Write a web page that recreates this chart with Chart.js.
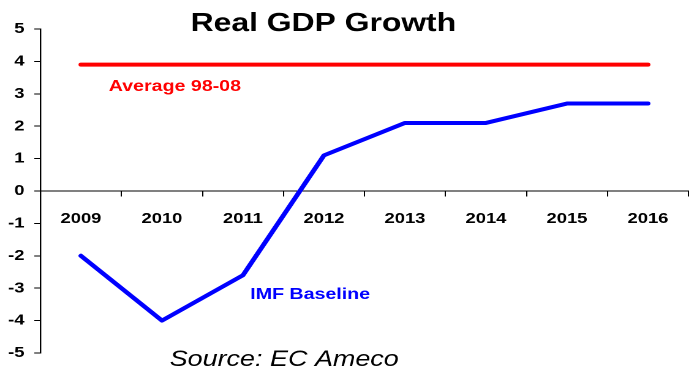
<!DOCTYPE html>
<html>
<head>
<meta charset="utf-8">
<script src="https://cdn.jsdelivr.net/npm/chart.js@4/dist/chart.umd.min.js"></script>
<style>
  html, body { margin: 0; padding: 0; background: #fff; overflow: hidden; }
  /* the chart is laid out narrow and widened, so the text comes out broad */
  #wrap { width: 565px; height: 375px; transform: scaleX(1.225); transform-origin: 0 0; }
</style>
</head>
<body>
<div id="wrap"><canvas id="gdpChart" width="565" height="375"></canvas></div>
<script>
const years = ['2009', '2010', '2011', '2012', '2013', '2014', '2015', '2016'];
const imfBaseline = [-2, -4, -2.6, 1.1, 2.1, 2.1, 2.7, 2.7];
const average9808 = [3.9, 3.9, 3.9, 3.9, 3.9, 3.9, 3.9, 3.9];
const yMin = -5;
const yMax = 5;

const FONT = '"Liberation Sans", Arial, sans-serif';

// title, line captions and source note
const textPlugin = {
    id: 'chartText',
    afterDraw(chart) {
        const ctx = chart.ctx;
        const x = chart.scales.x;
        const y = chart.scales.y;
        ctx.save();
        ctx.textBaseline = 'alphabetic';
        ctx.textAlign = 'center';

        ctx.fillStyle = '#000';
        ctx.font = 'bold 26px ' + FONT;
        ctx.fillText('Real GDP Growth', 264, 31);

        ctx.fillStyle = '#ff0000';
        ctx.font = 'bold 16px ' + FONT;
        ctx.fillText('Average 98-08', x.getPixelForValue(1.16), y.getPixelForValue(3.09));

        ctx.fillStyle = '#0000ff';
        ctx.fillText('IMF Baseline', x.getPixelForValue(2.83), y.getPixelForValue(-3.34));

        ctx.fillStyle = '#000';
        ctx.font = 'italic 22px ' + FONT;
        ctx.fillText('Source: EC Ameco', 232, 366);
        ctx.restore();
    }
};

new Chart(document.getElementById('gdpChart'), {
    type: 'line',
    data: {
        labels: years,
        datasets: [{
            label: 'Average 98-08',
            data: average9808,
            borderColor: '#ff0000',
            borderWidth: 4,
            borderCapStyle: 'round',
            pointRadius: 0,
            tension: 0
        }, {
            label: 'IMF Baseline',
            data: imfBaseline,
            borderColor: '#0000ff',
            borderWidth: 4,
            borderCapStyle: 'round',
            borderJoinStyle: 'round',
            pointRadius: 0,
            tension: 0
        }]
    },
    options: {
        responsive: false,
        animation: false,
        devicePixelRatio: 2,
        layout: { padding: { top: 29, bottom: 22, left: 0, right: 3 } },
        plugins: {
            legend: { display: false },
            tooltip: { enabled: false }
        },
        scales: {
            x: {
                type: 'category',
                offset: true,
                position: { y: 0 },
                grid: { drawOnChartArea: false, offset: true, tickLength: 5, color: '#000' },
                border: { color: '#000', width: 1 },
                ticks: { color: '#000', padding: 14, maxRotation: 0, font: { family: FONT, size: 15, weight: 'bold' } }
            },
            y: {
                min: yMin,
                max: yMax,
                afterFit(scale) { scale.width = 33; },
                grid: { drawOnChartArea: false, tickLength: 5, color: '#000' },
                border: { color: '#000', width: 1.2 },
                ticks: { stepSize: 1, color: '#000', padding: 8, font: { family: FONT, size: 15, weight: 'bold' } }
            }
        }
    },
    plugins: [textPlugin]
});
</script>
</body>
</html>
